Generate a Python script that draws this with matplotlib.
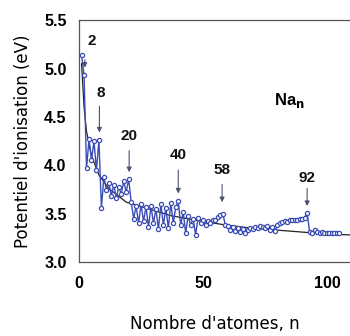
import numpy as np
import matplotlib.pyplot as plt

# ionisation potential of Na_n clusters (eV), n = 1..105
n_atoms = np.arange(1, 106)
ip = [5.14, 4.93, 3.97, 4.27, 4.05, 4.25, 3.95, 4.26, 3.56, 3.88,
      3.75, 3.82, 3.68, 3.80, 3.66, 3.78, 3.70, 3.84, 3.72, 3.86,
      3.62, 3.45, 3.58, 3.40, 3.60, 3.42, 3.57, 3.36, 3.58, 3.40,
      3.55, 3.34, 3.60, 3.38, 3.56, 3.35, 3.61, 3.40, 3.57, 3.63,
      3.38, 3.52, 3.30, 3.48, 3.38, 3.45, 3.28, 3.46, 3.40, 3.44,
      3.38, 3.42, 3.40, 3.44, 3.43, 3.47, 3.49, 3.50, 3.38, 3.37,
      3.33, 3.36, 3.32, 3.35, 3.31, 3.34, 3.30, 3.33, 3.35, 3.34,
      3.36, 3.35, 3.37, 3.36, 3.35, 3.37, 3.33, 3.36, 3.32, 3.38,
      3.40, 3.41, 3.42, 3.41, 3.43, 3.43, 3.44, 3.44, 3.45, 3.45,
      3.46, 3.51, 3.31, 3.30, 3.33, 3.31, 3.30, 3.31, 3.30, 3.30,
      3.30, 3.30, 3.30, 3.30, 3.30]

# smooth trend line
trend_n = [1, 2, 3, 5, 8, 12, 19, 28, 37, 50, 60, 70, 80, 90, 100, 110]
trend_ip = [5.05, 4.60, 4.35, 4.10, 3.90, 3.76, 3.62, 3.55, 3.48, 3.42,
            3.38, 3.35, 3.33, 3.31, 3.29, 3.28]

# magic numbers: label, arrow x, arrow tail, arrow head, label position
magic = ["2", "8", "20", "40", "58", "92"]
magic_x = [2.3, 8.2, 20.2, 40.0, 57.7, 92.0]
magic_tail = [5.12, 4.64, 4.18, 3.98, 3.83, 3.79]
magic_head = [4.98, 4.31, 3.90, 3.68, 3.59, 3.55]
label_x = [5.0, 8.8, 20.2, 40.0, 57.7, 92.0]
label_y = [5.28, 4.75, 4.30, 4.11, 3.95, 3.87]

blue = "#3b4cb5"
numfont = ["Liberation Sans Narrow", "Liberation Sans", "DejaVu Sans"]

fig = plt.figure(figsize=(3.5, 3.36), dpi=100)
ax = fig.add_axes([0.226, 0.22, 0.774, 0.72])

ax.plot(trend_n, trend_ip, color="#222222", lw=0.9, zorder=2)
ax.plot(n_atoms, ip, "-o", color=blue, lw=1.0, ms=3.0, mfc="white",
        mec=blue, mew=0.9, zorder=3)

for lab, x, t, h, lx, ly in zip(magic, magic_x, magic_tail, magic_head, label_x, label_y):
    ax.annotate("", xy=(x, h), xytext=(x, t),
                arrowprops=dict(arrowstyle="-|>", color="#4a5270", lw=0.8,
                                mutation_scale=7))
    ax.text(lx, ly, lab, ha="center", va="center", fontsize=11,
            fontweight="bold", color="#111111", family=numfont)

ax.text(85, 4.67, r"Na$_\mathbf{n}$", ha="center", va="center",
        fontsize=12, fontweight="bold", family=numfont)

ax.set_xlim(0, 109.3)
ax.set_ylim(3.0, 5.5)
ax.set_xticks([0, 50, 100])
ax.set_yticks([3.0, 3.5, 4.0, 4.5, 5.0, 5.5])
ax.set_yticklabels(["3.0", "3.5", "4.0", "4.5", "5.0", "5.5"])
ax.tick_params(axis="y", length=0, labelsize=11.5, pad=9)
ax.tick_params(axis="x", length=0, labelsize=11.5, pad=10)
for lbl in ax.get_xticklabels() + ax.get_yticklabels():
    lbl.set_fontweight("bold")
    lbl.set_family(numfont)

for side in ["left", "top", "bottom"]:
    ax.spines[side].set_color("#555555")
    ax.spines[side].set_linewidth(0.9)
ax.spines["right"].set_visible(False)

ax.set_xlabel("Nombre d'atomes, n", fontsize=12, labelpad=17)
ax.set_ylabel("Potentiel d'ionisation (eV)", fontsize=12, labelpad=9)

fig.savefig("out.png", dpi=100)
